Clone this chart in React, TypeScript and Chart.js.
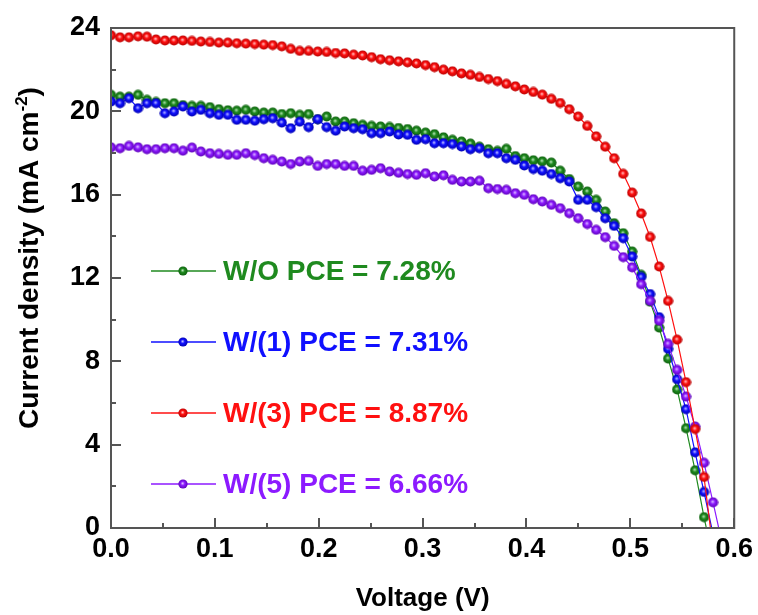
import React, { useEffect, useRef } from "react";
import { Chart, registerables } from "chart.js";

Chart.register(...registerables);

// ---- data ----
const voltage = [
  0, 0.0087, 0.0173, 0.026, 0.0346, 0.0433, 0.0519, 0.0606, 0.0692, 0.0779,
  0.0865, 0.0952, 0.1038, 0.1125, 0.1211, 0.1298, 0.1384, 0.1471, 0.1557, 0.1644,
  0.173, 0.1817, 0.1903, 0.199, 0.2076, 0.2163, 0.2249, 0.2336, 0.2422, 0.2509,
  0.2595, 0.2682, 0.2768, 0.2855, 0.2941, 0.3028, 0.3114, 0.3201, 0.3287, 0.3374,
  0.346, 0.3547, 0.3633, 0.372, 0.3806, 0.3893, 0.3979, 0.4066, 0.4152, 0.4239,
  0.4325, 0.4412, 0.4498, 0.4585, 0.4671, 0.4758, 0.4844, 0.4931, 0.5017, 0.5104,
  0.519, 0.5277, 0.5363, 0.545, 0.5536, 0.5623, 0.5709, 0.5796, 0.5882,
];

const jWO = [
  20.79, 20.7, 20.7, 20.79, 20.55, 20.45, 20.39, 20.39, 20.3, 20.26,
  20.26, 20.2, 20.1, 20.05, 20.03, 20.07, 19.99, 19.94, 19.94, 19.87,
  19.91, 19.83, 19.87, 19.62, 19.75, 19.51, 19.51, 19.43, 19.35, 19.3,
  19.27, 19.25, 19.2, 19.15, 19.07, 18.98, 18.9, 18.75, 18.63, 18.55,
  18.45, 18.3, 18.18, 18.1, 18.2, 17.85, 17.75, 17.65, 17.6, 17.54,
  17.15, 16.75, 16.39, 16.15, 15.75, 15.19, 14.63, 14.15, 13.27, 12.15,
  10.86, 9.62, 8.13, 6.65, 4.79, 2.77, 0.52, -1.5,
];

const jW1 = [
  20.47, 20.39, 20.63, 20.15, 20.39, 20.39, 19.91, 19.99, 20.23, 19.99,
  20.07, 19.91, 19.83, 19.83, 19.59, 19.59, 19.55, 19.62, 19.67, 19.46,
  19.19, 19.5, 19.24, 19.62, 19.24, 19.07, 19.27, 19.19, 19.14, 18.95,
  18.95, 19.03, 18.89, 18.87, 18.63, 18.66, 18.47, 18.47, 18.43, 18.31,
  18.18, 18.23, 17.99, 17.99, 17.75, 17.67, 17.4, 17.23, 17.15, 16.99,
  16.79, 16.63, 15.75, 15.75, 15.4, 14.87, 14.5, 13.91, 13.03, 12.05,
  11.23, 10.12, 8.6, 7.14, 5.7, 3.63, 1.73, -0.3,
];

const jW3 = [
  23.65, 23.55, 23.55, 23.6, 23.58, 23.45, 23.4, 23.4, 23.4, 23.38,
  23.35, 23.33, 23.3, 23.3, 23.27, 23.25, 23.23, 23.2, 23.18, 23.12,
  23.0, 22.9, 22.9, 22.87, 22.85, 22.8, 22.78, 22.72, 22.68, 22.6,
  22.5, 22.45, 22.4, 22.35, 22.3, 22.22, 22.12, 22.0, 21.92, 21.82,
  21.75, 21.65, 21.55, 21.45, 21.32, 21.2, 21.05, 20.93, 20.8, 20.6,
  20.4, 20.1, 19.75, 19.3, 18.8, 18.3, 17.75, 17.0, 16.1, 15.1,
  13.97, 12.55, 10.9, 9.04, 7.0, 4.75, 2.45, -1.0,
];

const jW5 = [
  18.27, 18.23, 18.34, 18.27, 18.18, 18.18, 18.23, 18.23, 18.11, 18.26,
  18.07, 17.99, 17.96, 17.91, 17.91, 17.99, 17.9, 17.75, 17.67, 17.59,
  17.47, 17.59, 17.62, 17.38, 17.47, 17.47, 17.38, 17.38, 17.15, 17.19,
  17.27, 17.11, 17.05, 16.99, 16.95, 17.03, 16.87, 16.93, 16.71, 16.63,
  16.63, 16.67, 16.31, 16.27, 16.23, 16.07, 15.99, 15.78, 15.67, 15.51,
  15.35, 15.11, 14.87, 14.59, 14.31, 13.96, 13.54, 13.0, 12.51, 11.7,
  10.9, 9.95, 8.84, 7.59, 6.31, 4.87, 3.13, 1.23, -0.7,
];

const seriesLabels = [
  "W/O PCE = 7.28%",
  "W/(1) PCE = 7.31%",
  "W/(3) PCE = 8.87%",
  "W/(5) PCE = 6.66%",
];
const seriesValues = [jWO, jW1, jW3, jW5];

const xTickValues = [0, 0.1, 0.2, 0.3, 0.4, 0.5, 0.6];
const xTickLabels = ["0.0", "0.1", "0.2", "0.3", "0.4", "0.5", "0.6"];
const xMinorTicks = [0.05, 0.15, 0.25, 0.35, 0.45, 0.55];
const yTickValues = [0, 4, 8, 12, 16, 20, 24];
const yTickLabels = ["0", "4", "8", "12", "16", "20", "24"];
const yMinorTicks = [2, 6, 10, 14, 18, 22];

const xTitle = "Voltage (V)";
const yTitleMain = "Current density (mA cm";
const yTitleSup = "-2";
const yTitleEnd = ")";

// ---- styles ----
const FONT = '"Liberation Sans", Arial, Helvetica, sans-serif';
const colors = ["#1f8a1f", "#1010ff", "#ff1010", "#8c1aff"];
const lightColors = ["#c4ecc4", "#d0d0ff", "#ffd6d6", "#e4ccff"];
const darkColors = ["#0b5a0b", "#0000a8", "#b00000", "#5800b0"];
const drawOrder = [3, 2, 0, 1];
const AXIS_COLOR = "#555555";
const MARK = 11;

function makeSphere(base: string, light: string, dark: string, size: number) {
  const c = document.createElement("canvas");
  c.width = size;
  c.height = size;
  const g = c.getContext("2d")!;
  const r = size / 2;
  const grad = g.createRadialGradient(r * 0.9, r * 0.85, 0, r, r, r);
  grad.addColorStop(0, light);
  grad.addColorStop(0.4, base);
  grad.addColorStop(1, dark);
  g.fillStyle = grad;
  g.beginPath();
  g.arc(r, r, r - 0.4, 0, Math.PI * 2);
  g.fill();
  return c;
}

export default function App() {
  const canvasRef = useRef<HTMLCanvasElement | null>(null);

  useEffect(() => {
    const canvas = canvasRef.current;
    if (!canvas) return;

    const sprites = colors.map((c, i) => makeSphere(c, lightColors[i], darkColors[i], MARK));
    const legendSprites = colors.map((c, i) => makeSphere(c, lightColors[i], darkColors[i], 10));

    const decor = {
      id: "decor",
      afterDatasetsDraw(chart: any) {
        const { ctx, chartArea: ca, scales } = chart;
        const xs = scales.x;
        const ys = scales.y;
        ctx.save();
        // ticks (inward)
        ctx.strokeStyle = AXIS_COLOR;
        ctx.lineWidth = 2;
        ctx.beginPath();
        xTickValues.forEach((v) => {
          const p = Math.round(xs.getPixelForValue(v));
          ctx.moveTo(p, ca.bottom);
          ctx.lineTo(p, ca.bottom - 10);
        });
        xMinorTicks.forEach((v) => {
          const p = Math.round(xs.getPixelForValue(v));
          ctx.moveTo(p, ca.bottom);
          ctx.lineTo(p, ca.bottom - 5);
        });
        yTickValues.forEach((v) => {
          const p = Math.round(ys.getPixelForValue(v));
          ctx.moveTo(ca.left, p);
          ctx.lineTo(ca.left + 10, p);
        });
        yMinorTicks.forEach((v) => {
          const p = Math.round(ys.getPixelForValue(v));
          ctx.moveTo(ca.left, p);
          ctx.lineTo(ca.left + 5, p);
        });
        ctx.stroke();
        // frame
        ctx.strokeRect(ca.left, ca.top, ca.right - ca.left, ca.bottom - ca.top);

        // legend inside plot
        const rowTop = ca.top + 243;
        const rowGap = 71;
        seriesLabels.forEach((label, i) => {
          const y = rowTop + i * rowGap;
          ctx.strokeStyle = colors[i];
          ctx.lineWidth = 1.5;
          ctx.beginPath();
          ctx.moveTo(ca.left + 40, y);
          ctx.lineTo(ca.left + 105, y);
          ctx.stroke();
          ctx.drawImage(legendSprites[i], ca.left + 67, y - 5, 10, 10);
          ctx.fillStyle = colors[i];
          ctx.font = `bold 28px ${FONT}`;
          ctx.textAlign = "left";
          ctx.textBaseline = "middle";
          ctx.fillText(label, ca.left + 112, y + 1);
        });

        // y-axis title with superscript
        ctx.fillStyle = "#000";
        ctx.textBaseline = "alphabetic";
        ctx.textAlign = "left";
        const mainFont = `bold 28px ${FONT}`;
        const supFont = `bold 17px ${FONT}`;
        ctx.font = mainFont;
        const w1 = ctx.measureText(yTitleMain).width;
        const w3 = ctx.measureText(yTitleEnd).width;
        ctx.font = supFont;
        const w2 = ctx.measureText(yTitleSup).width;
        const total = w1 + w2 + w3;
        ctx.translate(38, (ca.top + ca.bottom) / 2 - 20);
        ctx.rotate(-Math.PI / 2);
        let x0 = -total / 2;
        ctx.font = mainFont;
        ctx.fillText(yTitleMain, x0, 0);
        x0 += w1;
        ctx.font = supFont;
        ctx.fillText(yTitleSup, x0, -11);
        x0 += w2;
        ctx.font = mainFont;
        ctx.fillText(yTitleEnd, x0, 0);
        ctx.restore();
      },
    };

    const datasets = seriesValues.map((vals, i) => ({
      label: seriesLabels[i],
      data: vals.map((y, k) => ({ x: voltage[k], y })),
      borderColor: colors[i],
      backgroundColor: colors[i],
      borderWidth: 1.2,
      pointStyle: sprites[i] as any,
      pointRadius: 5.5,
      tension: 0,
      order: drawOrder[i],
    }));

    const tickFont = { family: FONT, size: 27, weight: "bold" as const };

    const chart = new Chart(canvas, {
      type: "line",
      data: { datasets },
      options: {
        animation: false,
        responsive: false,
        devicePixelRatio: 1,
        events: [],
        layout: { padding: { left: 0, top: 28, right: 21, bottom: 0 } },
        plugins: { legend: { display: false }, tooltip: { enabled: false } },
        scales: {
          x: {
            type: "linear",
            min: 0,
            max: 0.6,
            afterBuildTicks: (s: any) => {
              s.ticks = xTickValues.map((v) => ({ value: v }));
            },
            afterFit: (s: any) => {
              s.height = 87;
            },
            grid: { display: false, drawTicks: false },
            border: { display: false },
            ticks: {
              padding: 5,
              color: "#000",
              font: tickFont,
              autoSkip: false,
              maxRotation: 0,
              callback: (_v: any, i: number) => xTickLabels[i],
            },
            title: {
              display: true,
              text: xTitle,
              color: "#000",
              font: { family: FONT, size: 26, weight: "bold" },
              padding: { top: 0, bottom: 1 },
            },
          },
          y: {
            type: "linear",
            min: 0,
            max: 24,
            afterBuildTicks: (s: any) => {
              s.ticks = yTickValues.map((v) => ({ value: v }));
            },
            afterFit: (s: any) => {
              s.width = 111;
            },
            grid: { display: false, drawTicks: false },
            border: { display: false },
            ticks: {
              padding: 11,
              color: "#000",
              font: tickFont,
              autoSkip: false,
              callback: (_v: any, i: number) => yTickLabels[i],
            },
            title: { display: false },
          },
        },
      },
      plugins: [decor],
    });

    return () => chart.destroy();
  }, []);

  return (
    <div style={{ position: "absolute", left: 0, top: 0, width: 758, height: 615, background: "#fff" }}>
      <canvas ref={canvasRef} width={758} height={615} style={{ display: "block" }} />
    </div>
  );
}
